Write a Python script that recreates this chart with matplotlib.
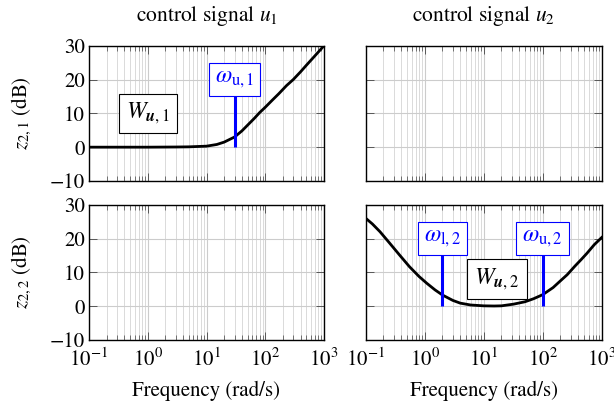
import matplotlib
matplotlib.use("Agg")
import matplotlib.pyplot as plt
from matplotlib.ticker import LogLocator, NullFormatter, MultipleLocator

plt.rcParams['font.family'] = ['STIXGeneral', 'Liberation Serif', 'DejaVu Serif']
plt.rcParams['mathtext.fontset'] = 'stix'

# weighting W_u,1
w1_freq = [0.1, 1, 3, 5, 10, 15, 20, 30, 40, 50, 65, 80, 100, 130, 170, 230, 300, 400, 500, 700, 1000]
w1_db = [0, 0, 0.05, 0.1, 0.3, 0.8, 1.5, 3, 4.8, 6.5, 8.5, 10.2, 11.8, 13.8, 15.8, 18.2, 20, 22.3, 24.2, 27, 30]

# weighting W_u,2
w2_freq = [0.1, 0.13, 0.175, 0.25, 0.38, 0.55, 0.8, 1.08, 1.5, 2, 3, 4, 6, 10, 15, 20, 32,
           50, 70, 100, 150, 200, 260, 350, 450, 560, 750, 1000]
w2_db = [26, 24.3, 22, 18.8, 15, 11.7, 8.8, 6.8, 4.8, 3.3, 1.7, 0.9, 0.35, 0.1, 0.05, 0.1, 0.6,
         1.3, 2.2, 3.4, 5.5, 7.5, 9.3, 11.8, 13.8, 15.6, 18.2, 20.3]

# bandwidth markers: frequency, marker height, label
w1_marks = [(30, 15, r'$\omega_{\mathrm{u,1}}$')]
w2_marks = [(2, 15, r'$\omega_{\mathrm{l,2}}$'), (100, 15, r'$\omega_{\mathrm{u,2}}$')]

col_titles = [r'control signal $u_1$', r'control signal $u_2$']
row_labels = [r'$z_{2,1}$ (dB)', r'$z_{2,2}$ (dB)']

fig = plt.figure(figsize=(6.14, 4.07), dpi=100)
W, H = 614, 407
lefts = [89, 365.7]
tops = [45.7, 204.7]
aw, ah = 235, 135.3

axes = {}
for r in range(2):
    for c in range(2):
        ax = fig.add_axes([lefts[c] / W, (H - tops[r] - ah) / H, (aw if c == 0 else 236) / W, ah / H])
        ax.set_xscale('log')
        ax.set_xlim(0.1, 1000)
        ax.set_ylim(-10, 30)
        ax.yaxis.set_major_locator(MultipleLocator(10))
        ax.xaxis.set_major_locator(LogLocator(base=10, numticks=10))
        ax.xaxis.set_minor_locator(LogLocator(base=10, subs=range(2, 10), numticks=20))
        ax.xaxis.set_minor_formatter(NullFormatter())
        ax.grid(True, which='major', color='#cccccc', lw=0.8)
        ax.grid(True, which='minor', axis='x', color='#dadada', lw=0.7)
        ax.set_axisbelow(True)
        ax.tick_params(which='both', direction='in', top=True, right=True, color='#444444',
                       labelsize=15)
        ax.tick_params(axis='y', pad=3)
        ax.tick_params(axis='x', pad=6)
        ax.tick_params(which='major', length=6, width=0.6)
        ax.tick_params(which='minor', length=3.5, width=0.5)
        for s in ax.spines.values():
            s.set_linewidth(1.0)
        if r == 0:
            ax.set_title(col_titles[c], fontsize=15.5, pad=18)
            ax.tick_params(labelbottom=False)
        else:
            ax.set_xlabel('Frequency (rad/s)', fontsize=15, labelpad=7)
        if c == 0:
            ax.set_ylabel(row_labels[r], fontsize=15, labelpad=11)
        else:
            ax.tick_params(labelleft=False)
        axes[(r, c)] = ax

def draw_marks(ax, marks):
    for f, h, lab in marks:
        ax.plot([f, f], [0, h], color='#0000ff', lw=2.2, solid_capstyle='butt')
        ax.text(f, h + 5, lab, color='#0000ff', fontsize=17, ha='center', va='center',
                bbox=dict(boxstyle='square,pad=0.25', fc='white', ec='#0000ff', lw=0.8))

ax = axes[(0, 0)]
ax.plot(w1_freq, w1_db, color='black', lw=2)
draw_marks(ax, w1_marks)
ax.text(1, 10, r'$W_{\mathbfit{u},1}$', fontsize=17, ha='center', va='center',
        bbox=dict(boxstyle='square,pad=0.3', fc='white', ec='black', lw=0.8))

ax = axes[(1, 1)]
ax.plot(w2_freq, w2_db, color='black', lw=2)
draw_marks(ax, w2_marks)
ax.text(16.8, 8, r'$W_{\mathbfit{u},2}$', fontsize=17, ha='center', va='center',
        bbox=dict(boxstyle='square,pad=0.3', fc='white', ec='black', lw=0.8))

fig.savefig('out.png', dpi=100)
